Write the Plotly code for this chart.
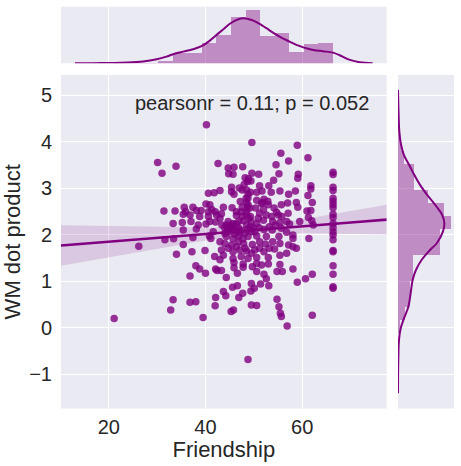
import numpy as np
import plotly.graph_objects as go

# scatter values
friendship = [
    40.2, 49.6, 59.0, 55.6, 61.2, 57.2, 30.1, 33.9, 42.6, 31.0, 54.6, 44.7, 45.9, 47.7, 55.2, 59.2, 66.4, 66.4, 44.8, 45.7, 49.6, 51.0,
    48.2, 48.9, 48.7, 48.0, 49.4, 54.1, 59.1, 61.8, 61.8, 51.2, 53.1, 45.4, 47.0, 66.4, 66.4, 51.7, 55.4, 58.6, 40.6, 41.8, 43.0, 45.4, 45.9, 47.6, 49.3, 50.6, 53.6,
    57.2, 61.2, 66.4, 66.4, 66.4, 66.4, 66.4, 48.8, 50.6, 52.1, 52.9, 51.8, 48.5, 47.2, 48.8, 57.0, 58.8, 62.1, 55.7, 40.1, 37.4, 38.1, 35.6, 31.4, 33.7, 35.9,
    39.1, 40.6, 42.0, 41.3, 43.7, 45.5, 47.6, 48.7, 50.4, 52.0, 54.2, 54.7, 57.1, 59.1, 61.0, 61.8, 61.3, 62.0, 66.4,
    35.4, 38.8, 37.0, 35.2, 33.3, 40.6, 42.3, 43.0, 46.4, 48.5, 49.3, 47.8, 49.4, 52.0, 53.7, 55.8, 55.4, 40.1, 42.1, 44.7, 45.4, 46.4, 46.9, 50.6, 51.1,
    53.2, 54.5, 57.4, 62.3, 66.4, 66.4, 66.4, 66.4, 66.4, 35.4, 38.1, 44.0, 44.6, 45.6, 46.8, 45.0, 46.1, 47.4, 48.7, 49.5, 49.9, 52.1, 53.8, 55.7, 56.8,
    41.6, 40.8, 41.1, 37.4, 31.6, 33.4, 26.2, 34.0, 35.4, 37.2, 39.9,
    44.3, 45.7, 46.9, 47.7, 48.8, 50.6, 52.6, 55.2, 58.1, 61.4, 43.0, 44.0, 46.8, 47.9, 49.7, 51.2, 52.4, 55.4, 57.2, 58.1, 58.8,
    43.3, 44.7, 45.7, 47.1, 48.5, 50.2, 52.1, 54.3, 55.4, 56.8, 66.4, 66.4,
    41.9, 43.7, 45.7, 47.4, 48.8, 50.6, 53.0, 45.9, 47.8, 50.6, 53.0, 55.4, 38.0, 38.8, 40.0, 42.1, 42.4, 45.9, 47.8, 49.7, 51.6, 54.8, 55.9, 58.1,
    66.4, 66.4, 62.1, 36.8, 43.3, 44.3,
    52.1, 52.6, 51.4, 53.1, 49.5, 45.6, 46.6, 59.0, 60.7, 66.4, 66.4, 43.7, 44.2, 47.7, 46.9, 49.4, 50.1, 33.3, 36.8, 38.0, 42.1, 42.0, 54.8, 55.2,
    49.5, 50.6, 45.8, 45.3, 32.8, 55.5, 55.7, 62.1, 39.5, 21.1, 56.9, 48.8,
    48.5, 48.8, 48.4, 49.2, 48.5, 49.0, 48.5, 49.3, 48.1, 44.3, 45.0, 45.7, 44.7, 46.1, 47.1, 44.0, 52.6, 51.2, 51.6, 53.0, 55.1, 56.8, 51.2,
    49.5, 48.2, 46.4, 45.4, 43.0, 50.6, 46.6, 53.9, 53.2, 40.9, 43.4, 38.5, 36.8, 50.9, 47.6, 50.2, 53.9, 58.1, 59.5, 46.4, 47.4, 43.3, 40.9,
]
wm_dot = [
    4.36, 3.98, 3.92, 3.75, 3.65, 3.58, 3.55, 3.47, 3.53, 3.32, 3.50, 3.43, 3.45, 3.46, 3.31, 3.30, 3.34, 3.29, 3.31, 3.30, 3.32, 3.30,
    3.22, 3.20, 3.14, 3.08, 3.15, 3.17, 3.21, 3.05, 2.98, 3.05, 3.05, 3.02, 3.00, 3.02, 2.95, 2.94, 2.94, 2.94, 2.89, 2.90, 2.95, 2.92, 2.87, 2.96, 2.91, 2.91, 2.91,
    2.87, 2.84, 2.78, 2.72, 2.65, 2.58, 2.44, 2.79, 2.74, 2.76, 2.72, 2.69, 2.69, 2.71, 2.64, 2.68, 2.69, 2.69, 2.64, 2.66, 2.59, 2.52, 2.59, 2.51, 2.51, 2.49,
    2.52, 2.49, 2.49, 2.54, 2.59, 2.58, 2.59, 2.58, 2.57, 2.54, 2.57, 2.48, 2.46, 2.59, 2.51, 2.52, 2.37, 2.30, 2.37,
    2.44, 2.39, 2.28, 2.26, 2.24, 2.39, 2.42, 2.35, 2.41, 2.42, 2.39, 2.30, 2.28, 2.31, 2.39, 2.39, 2.26, 2.23, 2.27, 2.28, 2.21, 2.23, 2.29, 2.24, 2.15,
    2.17, 2.21, 2.23, 2.21, 2.24, 2.15, 2.06, 1.99, 1.89, 2.10, 2.12, 2.15, 2.11, 2.12, 2.15, 2.06, 2.09, 2.10, 2.11, 2.06, 2.15, 2.11, 2.10, 2.14, 2.05,
    2.06, 1.97, 1.92, 1.94, 1.89, 1.91, 1.75, 1.58, 1.79, 1.63, 1.66,
    1.96, 1.91, 1.97, 1.91, 1.96, 1.97, 1.96, 1.96, 1.99, 1.92, 1.85, 1.81, 1.85, 1.81, 1.79, 1.85, 1.80, 1.81, 1.78, 1.74, 1.71,
    1.67, 1.71, 1.63, 1.67, 1.65, 1.67, 1.63, 1.69, 1.56, 1.60, 1.66, 1.63,
    1.53, 1.56, 1.49, 1.53, 1.49, 1.51, 1.51, 1.40, 1.37, 1.38, 1.37, 1.36, 1.33, 1.26, 1.17, 1.26, 1.23, 1.29, 1.30, 1.31, 1.35, 1.21, 1.21, 1.26,
    1.33, 1.15, 1.15, 1.11, 1.23, 1.08,
    1.15, 1.05, 0.94, 0.90, 0.95, 0.87, 0.90, 0.98, 1.05, 0.88, 0.85, 0.78, 0.69, 0.74, 0.65, 0.79, 0.85, 0.60, 0.55, 0.56, 0.65, 0.47, 0.61, 0.45,
    0.49, 0.48, 0.38, 0.35, 0.38, 0.31, 0.24, 0.27, 0.22, 0.20, 0.04, -0.68,
    2.96, 2.87, 2.78, 2.57, 2.49, 2.35, 2.21, 2.17, 2.03, 2.21, 2.17, 2.24, 2.10, 2.01, 2.06, 2.03, 2.42, 2.46, 2.67, 2.64, 2.42, 2.28, 1.71,
    1.60, 1.71, 1.74, 1.78, 1.46, 1.21, 1.17, 1.85, 1.71, 2.28, 2.21, 2.21, 2.42, 2.35, 2.39, 2.06, 2.28, 1.92, 2.28, 2.49, 2.49, 2.45, 2.64,
]

# marginal histogram counts (bins span data min..max)
friend_counts = [1, 1, 1, 3, 12, 12, 23, 31, 51, 59, 30, 33, 13, 21, 23]
wm_counts = [1, 0, 2, 7, 12, 12, 15, 15, 41, 41, 52, 45, 29, 16, 16, 6, 3, 1]

# marginal kde curves (density units)
friend_kde_x = [13.0, 16.8, 20.0, 23.7, 27.1, 29.9, 31.9, 33.3, 35.4, 37.4, 39.3, 40.9, 42.3, 43.7, 45.2, 46.8,
                47.8, 48.8, 49.9, 51.2, 52.6, 54.2, 55.7, 57.4, 58.8, 60.4, 62.3, 64.3, 66.4, 68.1, 69.9, 71.9, 74.6]
friend_kde_d = [0.0, 0.0001, 0.0004, 0.0008, 0.002, 0.0046, 0.0077, 0.0105, 0.0135, 0.0162, 0.020, 0.0262, 0.0328,
                0.0393, 0.0462, 0.0508, 0.052, 0.0512, 0.0493, 0.0455, 0.0405, 0.0346, 0.0297, 0.025, 0.0212, 0.0181,
                0.0154, 0.0139, 0.0123, 0.0084, 0.0039, 0.0012, 0.0]
wm_kde_y = [5.11, 4.57, 4.21, 3.93, 3.71, 3.53, 3.32, 3.07, 2.82, 2.60, 2.42, 2.24, 2.06, 1.81, 1.67, 1.46, 1.24,
            1.03, 0.74, 0.45, 0.20, -0.01, -0.26, -0.62, -0.98, -1.41]
wm_kde_d = [0.0, 0.007, 0.015, 0.034, 0.066, 0.115, 0.170, 0.244, 0.337, 0.428, 0.491, 0.514, 0.497, 0.428, 0.355,
            0.263, 0.199, 0.163, 0.140, 0.115, 0.066, 0.030, 0.011, 0.004, 0.001, 0.0]

x_ticks = [20, 40, 60]
y_ticks = [-1, 0, 1, 2, 3, 4, 5]
stat_text = "pearsonr = 0.11; p = 0.052"

PURPLE = "#800080"
BG = "#EAEAF2"
TXT = "#262626"
FONT = "Liberation Sans, Arial, sans-serif"

x = np.array(friendship)
y = np.array(wm_dot)
n = len(x)
x_range = [10.1, 77.5]
y_range = [-1.735, 5.43]

# regression line + 95% band
slope, icpt = np.polyfit(x, y, 1)
xs = np.linspace(x_range[0], x_range[1], 100)
fit = icpt + slope * xs
resid = y - (icpt + slope * x)
s = np.sqrt((resid ** 2).sum() / (n - 2))
se = s * np.sqrt(1 / n + (xs - x.mean()) ** 2 / ((x - x.mean()) ** 2).sum())
lo, hi = fit - 1.97 * se, fit + 1.97 * se

# marginal histograms as densities
ex = np.linspace(x.min(), x.max(), len(friend_counts) + 1)
ey = np.linspace(y.min(), y.max(), len(wm_counts) + 1)
hx = np.array(friend_counts) / (sum(friend_counts) * np.diff(ex))
hy = np.array(wm_counts) / (sum(wm_counts) * np.diff(ey))

fig = go.Figure()

fig.add_trace(go.Scatter(x=xs, y=hi, mode="lines", line=dict(width=0), hoverinfo="skip", showlegend=False))
fig.add_trace(go.Scatter(x=xs, y=lo, mode="lines", line=dict(width=0), fill="tonexty",
                         fillcolor="rgba(128,0,128,0.15)", hoverinfo="skip", showlegend=False))
fig.add_trace(go.Scatter(x=x, y=y, mode="markers", showlegend=False,
                         marker=dict(color=PURPLE, size=7.5, opacity=0.8, line=dict(width=0))))
fig.add_trace(go.Scatter(x=xs, y=fit, mode="lines", line=dict(color=PURPLE, width=2.6), showlegend=False))

# top marginal
fig.add_trace(go.Bar(x=(ex[:-1] + ex[1:]) / 2, y=hx, width=np.diff(ex), xaxis="x2", yaxis="y2",
                     marker=dict(color="rgba(128,0,128,0.4)", line=dict(width=0)), showlegend=False))
fig.add_trace(go.Scatter(x=friend_kde_x, y=friend_kde_d, mode="lines", line_shape="spline", xaxis="x2", yaxis="y2",
                         line=dict(color=PURPLE, width=2), showlegend=False))
# right marginal
fig.add_trace(go.Bar(y=(ey[:-1] + ey[1:]) / 2, x=hy, width=np.diff(ey), orientation="h", xaxis="x3", yaxis="y3",
                     marker=dict(color="rgba(128,0,128,0.4)", line=dict(width=0)), showlegend=False))
fig.add_trace(go.Scatter(x=wm_kde_d, y=wm_kde_y, mode="lines", line_shape="spline", xaxis="x3", yaxis="y3",
                         line=dict(color=PURPLE, width=2), showlegend=False))

W, H = 461, 466
main_x = [61 / W, 386.7 / W]
main_y = [1 - 408.5 / H, 1 - 75 / H]
top_max = max(hx.max(), max(friend_kde_d)) * 1.05
right_max = max(hy.max(), max(wm_kde_d)) * 1.05

grid = dict(showgrid=True, gridcolor="white", gridwidth=1.3, zeroline=False, showline=False, ticks="")
fig.update_layout(
    width=W, height=H, margin=dict(l=0, r=0, t=0, b=0),
    paper_bgcolor="white", plot_bgcolor=BG, bargap=0,
    font=dict(family=FONT, color=TXT),
    xaxis=dict(domain=main_x, range=x_range, tickvals=x_ticks, tickfont=dict(size=20),
               ticklabelstandoff=4, automargin=False,
               title=dict(text="Friendship", font=dict(size=22), standoff=2), **grid),
    yaxis=dict(domain=main_y, range=y_range, tickvals=y_ticks, tickfont=dict(size=20),
               ticklabelstandoff=8, automargin=False,
               title=dict(text="WM dot product", font=dict(size=22), standoff=14), **grid),
    xaxis2=dict(domain=main_x, range=x_range, tickvals=x_ticks, showticklabels=False, anchor="y2", **grid),
    yaxis2=dict(domain=[1 - 63.3 / H, 1 - 6.7 / H], range=[0, top_max], showgrid=False, zeroline=False,
                showticklabels=False, anchor="x2"),
    xaxis3=dict(domain=[398 / W, 454 / W], range=[0, right_max], showgrid=False, zeroline=False,
                showticklabels=False, anchor="y3"),
    yaxis3=dict(domain=main_y, range=y_range, tickvals=y_ticks, showticklabels=False, anchor="x3", **grid),
    annotations=[dict(text=stat_text, xref="paper", yref="paper", x=133 / W, y=1 - 103 / H,
                      xanchor="left", yanchor="middle", showarrow=False, font=dict(size=20, color=TXT))],
)

fig.write_html("out.html", config={"displayModeBar": False},
               post_script="document.body.style.margin='0';")
